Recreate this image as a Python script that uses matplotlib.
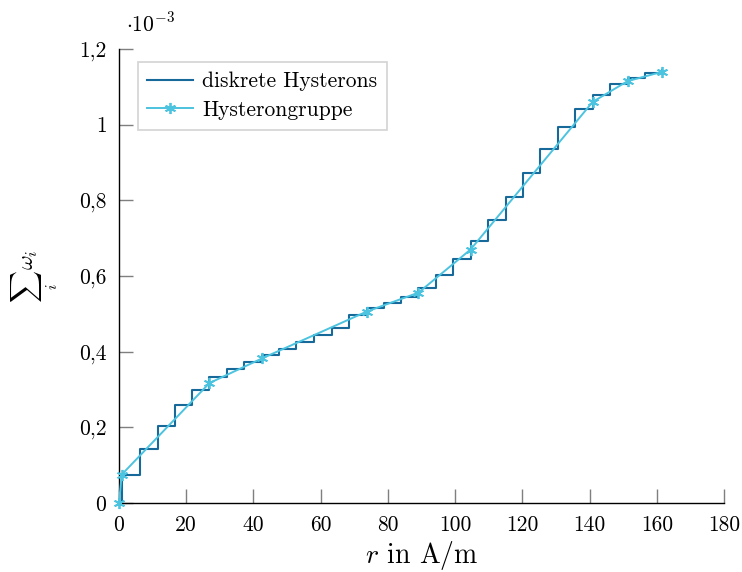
import matplotlib
matplotlib.use("Agg")
import matplotlib.pyplot as plt
from matplotlib.ticker import FixedLocator, FuncFormatter

plt.rcParams["font.family"] = "serif"
plt.rcParams["font.serif"] = ["cmr10", "DejaVu Serif"]
plt.rcParams["mathtext.fontset"] = "cm"
plt.rcParams["axes.unicode_minus"] = False
plt.rcParams["axes.formatter.use_mathtext"] = True

# Discrete hysterons: switching field r and cumulative weight (units of 1e-3)
hyst_r = [0.8, 6.25, 11.5, 16.7, 21.8, 26.9, 32.0, 37.2, 42.5, 47.6, 52.8,
          58.0, 63.3, 68.5, 73.7, 78.8, 84.0, 89.1, 94.3, 99.4, 104.6,
          109.8, 115.0, 120.1, 125.3, 130.5, 135.7, 140.9, 146.1, 151.3,
          156.5, 161.7]
hyst_sum = [0.074, 0.142, 0.204, 0.258, 0.300, 0.333, 0.353, 0.372, 0.391,
            0.407, 0.426, 0.444, 0.462, 0.497, 0.515, 0.529, 0.544, 0.568,
            0.603, 0.646, 0.693, 0.748, 0.810, 0.873, 0.935, 0.995, 1.042,
            1.079, 1.107, 1.124, 1.136, 1.144]

# Hysteron group (piecewise linear)
group_r = [0, 0.8, 26.9, 42.5, 73.7, 89.1, 104.6, 140.9, 151.3, 161.7]
group_sum = [0, 0.075, 0.317, 0.382, 0.506, 0.556, 0.670, 1.060, 1.115, 1.140]

x_ticks = [0, 20, 40, 60, 80, 100, 120, 140, 160, 180]
y_ticks = [0, 0.2, 0.4, 0.6, 0.8, 1.0, 1.2]

dark_blue = "#17699a"
light_blue = "#4cc3df"

fig = plt.figure(figsize=(7.42, 5.72), dpi=100)
ax = fig.add_axes([119 / 742, 1 - 503 / 572, (724 - 119) / 742, (503 - 49) / 572])

ax.step([0] + hyst_r, [0] + hyst_sum, where="post", color=dark_blue,
        lw=1.5, label="diskrete Hysterons", zorder=2)
ax.plot(group_r, group_sum, color=light_blue, lw=1.4, marker=(6, 2, 0),
        markersize=8, markeredgewidth=1.3, label="Hysterongruppe", zorder=3,
        clip_on=False)

ax.set_xlim(0, 180)
ax.set_ylim(0, 1.2)
ax.xaxis.set_major_locator(FixedLocator(x_ticks))
ax.yaxis.set_major_locator(FixedLocator(y_ticks))


def comma_fmt(v, pos):
    s = f"{v:.1f}".rstrip("0").rstrip(".")
    return s.replace(".", ",")


ax.yaxis.set_major_formatter(FuncFormatter(comma_fmt))
ax.xaxis.set_major_formatter(FuncFormatter(lambda v, p: f"{int(v)}"))

for s in ("top", "right"):
    ax.spines[s].set_visible(False)
for s in ("left", "bottom"):
    ax.spines[s].set_linewidth(1.0)
    ax.spines[s].set_color("black")

ax.tick_params(direction="in", length=10, width=1.0, color="#7f7f7f",
               labelsize=15.5, pad=9)

ax.text(0.012, 1.03, r"$\cdot 10^{-3}$", transform=ax.transAxes,
        fontsize=15.5, ha="left", va="bottom")

ax.set_xlabel(r"$r$ in A/m", fontsize=20, labelpad=3)
ax.set_ylabel(r"$\sum_i \, \omega_i$", fontsize=16)
ax.yaxis.set_label_coords(-0.098, 0.5)

leg = ax.legend(loc="upper left", bbox_to_anchor=(0.031, 0.971), fontsize=15.5,
                frameon=True, fancybox=False, edgecolor="#c8c8c8",
                handlelength=2.1, borderpad=0.45, labelspacing=0.42,
                handletextpad=0.45, borderaxespad=0)
leg.get_frame().set_linewidth(1.2)

fig.savefig("out.png", dpi=100)
